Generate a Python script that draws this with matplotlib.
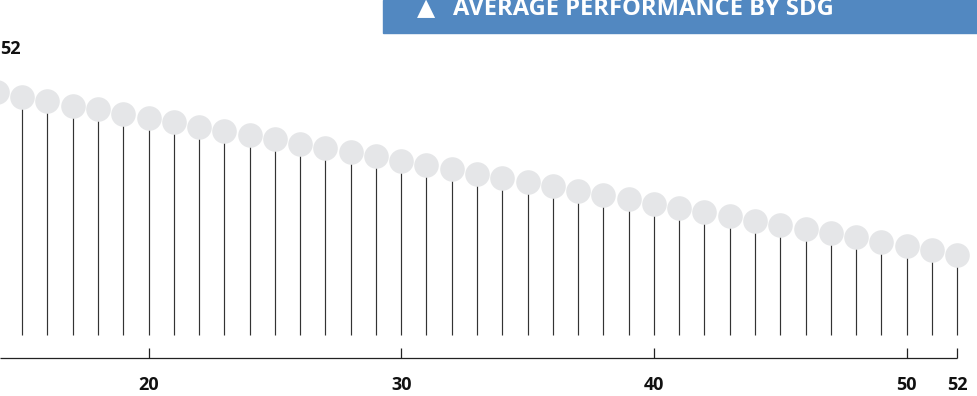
import matplotlib
matplotlib.use("Agg")
import matplotlib.pyplot as plt
from matplotlib.patches import Rectangle

# ---- data ----
ranks = list(range(14, 53))
scores = [80.9, 79.4, 78.0, 76.5, 75.2, 73.7, 72.3, 71.0, 69.5, 68.0,
          66.7, 65.3, 63.8, 62.5, 61.0, 59.6, 58.1, 56.7, 55.2, 53.8,
          52.3, 51.0, 49.6, 48.1, 46.7, 45.2, 43.8, 42.5, 41.0, 39.6,
          38.1, 36.8, 35.4, 34.0, 32.6, 31.1, 29.7, 28.2, 26.8]
tick_ranks = [20, 30, 40, 50, 52]
top_label = "52"
title = "AVERAGE PERFORMANCE BY SDG"

W, H = 978, 396
fig = plt.figure(figsize=(W / 100, H / 100), dpi=100)
ax = fig.add_axes([0, 0, 1, 1])
ax.axis("off")

# pixel -> data mapping
x_left = 20 - 148.5 / 25.27
x_right = 20 + (W - 148.5) / 25.27
ax.set_xlim(x_left, x_right)
ax.set_ylim((335 - H) / 3, 335 / 3)

font = ["Open Sans", "DejaVu Sans"]
axis_y = (335 - 357.7) / 3

# stems
ax.vlines(ranks, 0, scores, color="#333333", lw=0.85, zorder=1)
# dots
ax.plot(ranks, scores, "o", ms=17.7, color="#e5e6e8", mec="none", zorder=2)

# axis line and ticks
ax.plot([x_left, tick_ranks[-1]], [axis_y, axis_y], color="#222222", lw=0.9,
        solid_capstyle="butt")
ax.vlines(tick_ranks, axis_y, axis_y + 9.5 / 3, color="#222222", lw=0.9)
for r in tick_ranks:
    ax.text(r, (335 - 385) / 3, str(r), ha="center", va="center",
            fontsize=13, fontweight="bold", family=font, color="#111111")

# top-left label
fig.text(0 / W, 1 - 49.5 / H, top_label, ha="left", va="center", fontsize=13,
         fontweight="bold", family=font, color="#111111")

# banner
fig.patches.append(Rectangle((383 / W, 1 - 32.5 / H), 1 - 383 / W, 32.5 / H,
                             transform=fig.transFigure, color="#5288c1",
                             zorder=0))
fig.text(426 / W, 1 - 15 / H, "\u25B2", ha="center", va="baseline",
         fontsize=17, family=["DejaVu Sans"], color="white")
fig.text(453 / W, 1 - 15 / H, title, ha="left", va="baseline",
         fontsize=17.1, fontweight="bold", family=font, color="white")

fig.savefig("out.png", dpi=100)
